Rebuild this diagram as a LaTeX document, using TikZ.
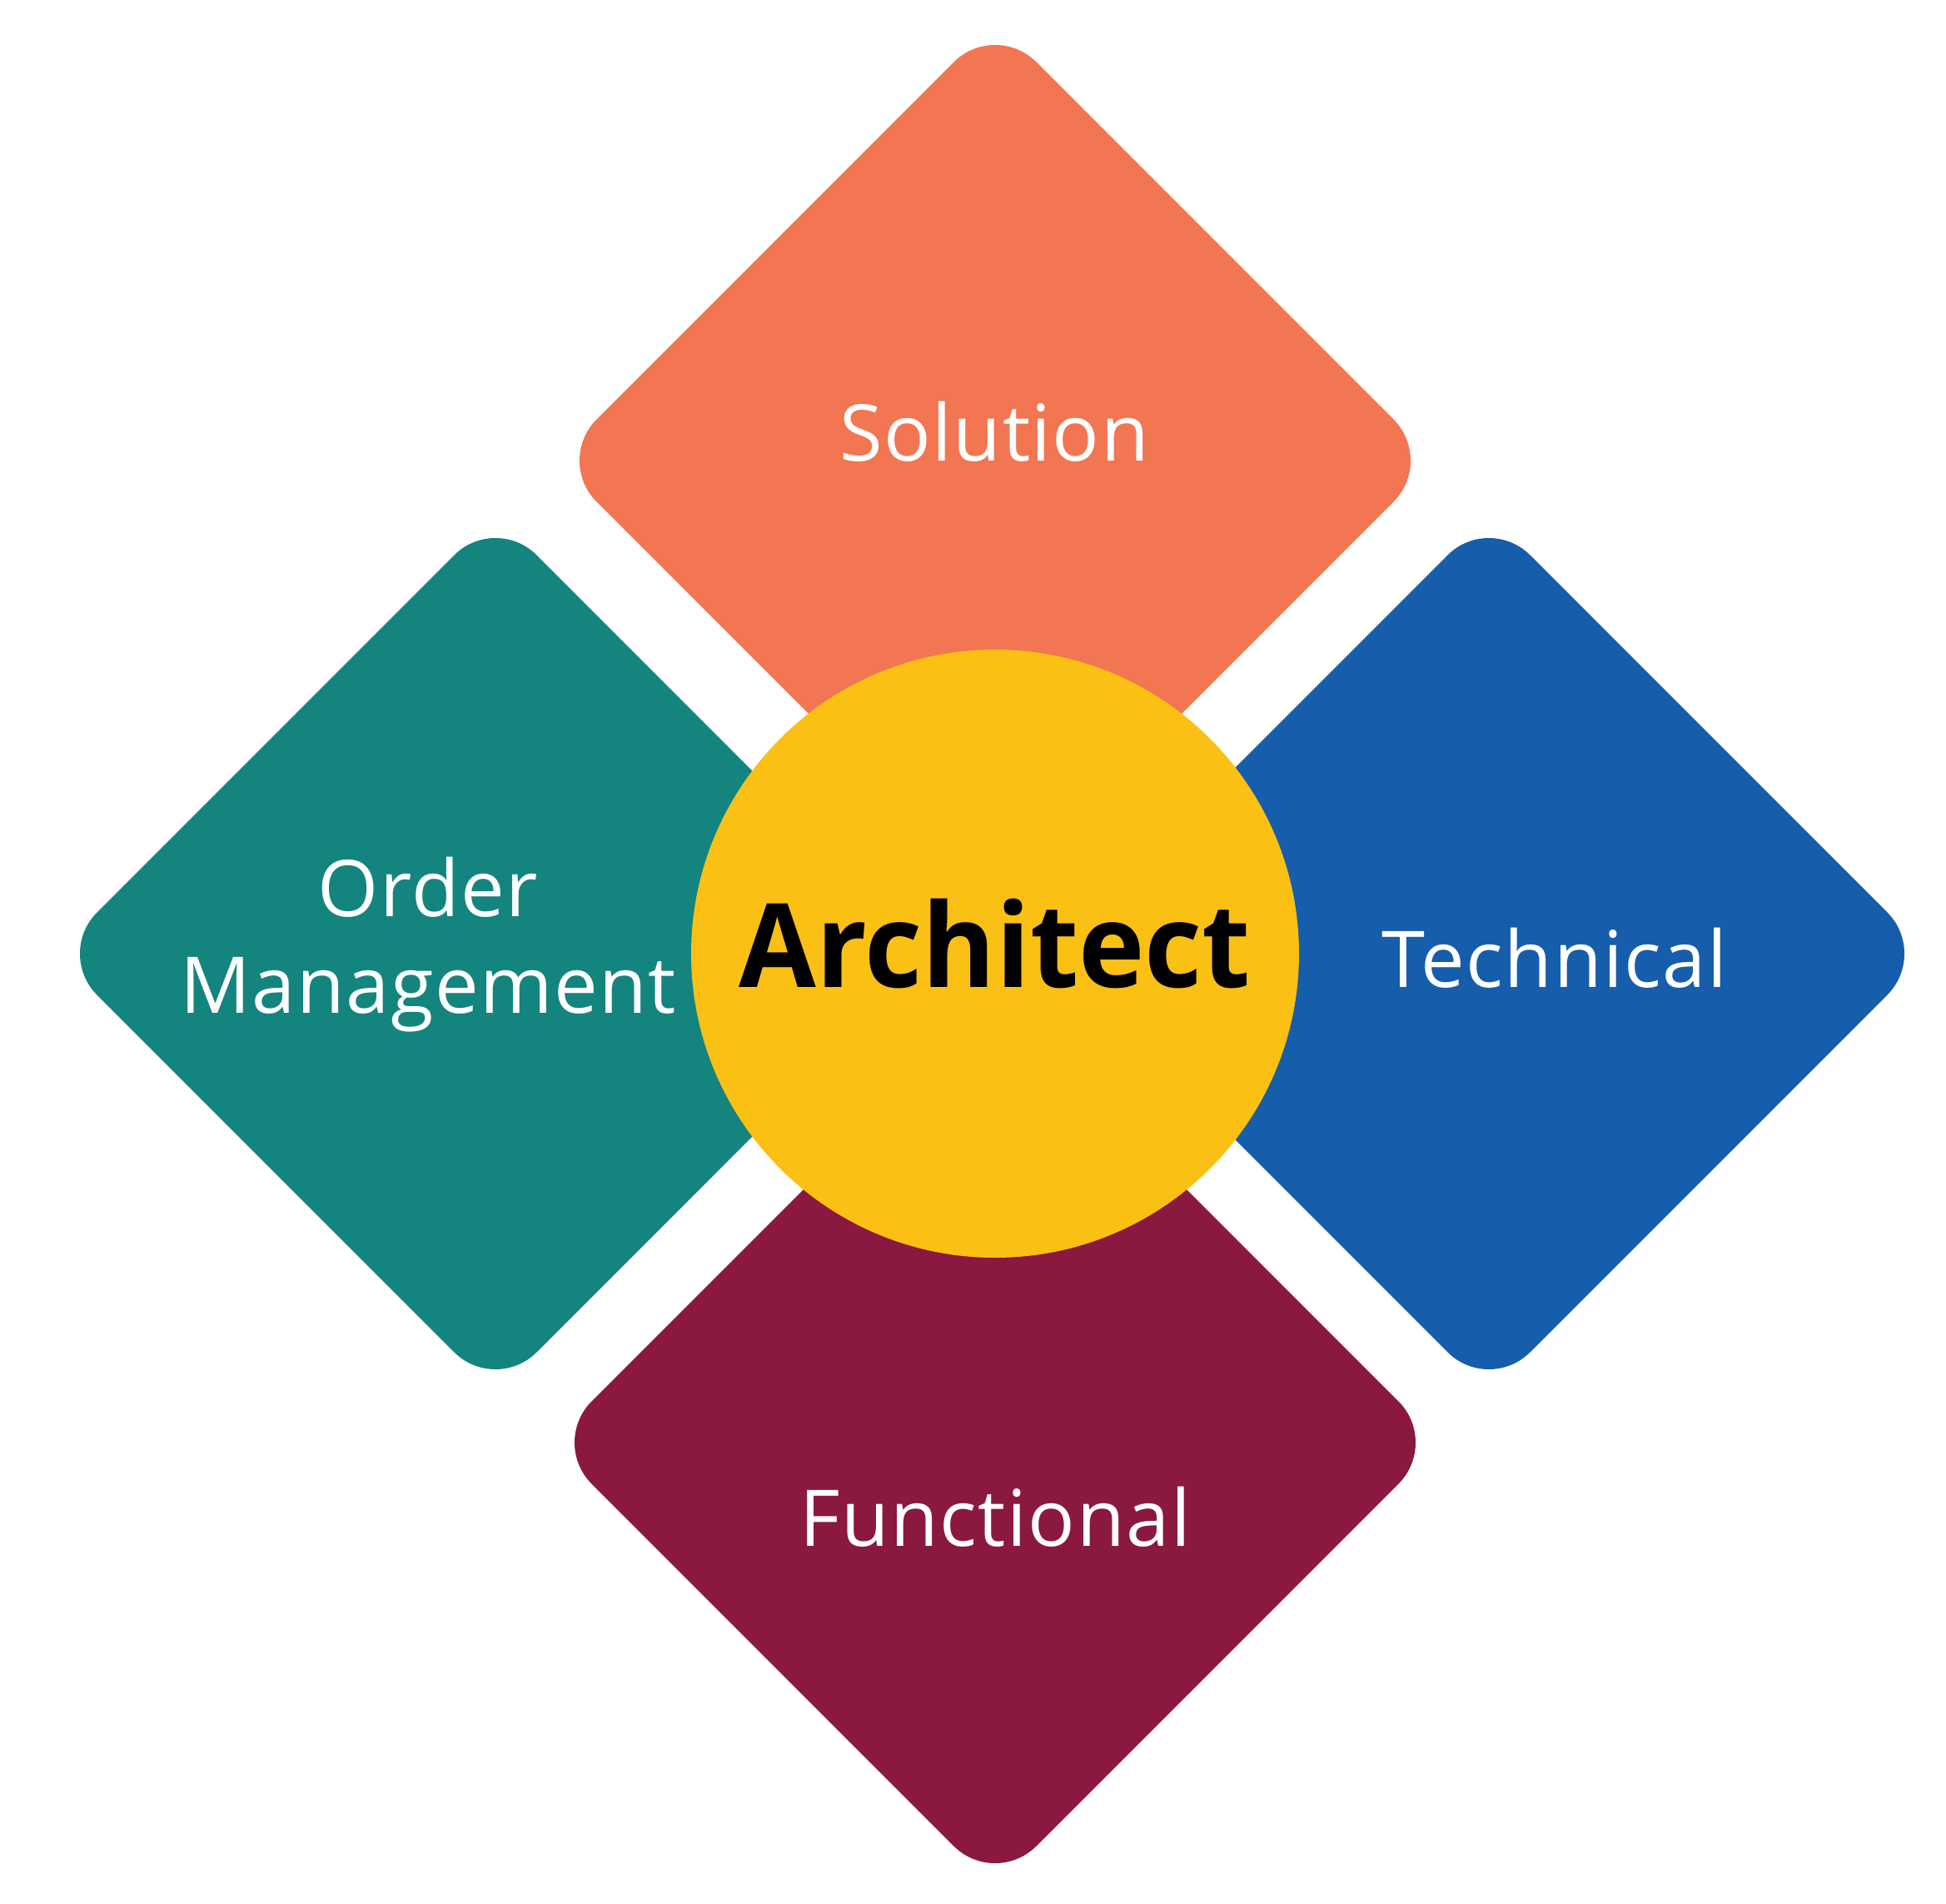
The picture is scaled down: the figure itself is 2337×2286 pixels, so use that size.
\documentclass[tikz,border=0pt]{standalone}
\usepackage{fontspec}
\setmainfont{Open Sans}[LetterSpace=1.6]
\newfontfamily\archfont{Open Sans}[FakeStretch=0.96]
\definecolor{cOrange}{HTML}{F27651}
\definecolor{cTeal}{HTML}{14847E}
\definecolor{cBlue}{HTML}{165DAB}
\definecolor{cMaroon}{HTML}{8B1840}
\definecolor{cYellow}{HTML}{FBC014}
\begin{document}
\begin{tikzpicture}[x=1pt,y=-1pt,
  petal/.style={rounded corners=70pt},
  lbl/.style={text=white,font=\fontsize{94}{116}\selectfont,align=center,anchor=base,inner sep=0pt},
  hub/.style={fill=cYellow,circle,minimum size=730pt,inner sep=0pt}]
\useasboundingbox (0,0) rectangle (2337,2286);
% petals
\fill[cOrange,petal] (1195,25) -- (1723,553) -- (1195,1081) -- (667,553) -- cycle;
\fill[cTeal,petal] (595,617) -- (1123,1145) -- (595,1673) -- (67,1145) -- cycle;
\fill[cBlue,petal] (1788,617) -- (2316,1145) -- (1788,1673) -- (1260,1145) -- cycle;
\fill[cMaroon,petal] (1195,1198) -- (1729,1732) -- (1195,2266) -- (661,1732) -- cycle;
% hub
\node[hub] (hub) at (1195,1145) {};
\node[anchor=base,inner sep=0pt,font=\archfont\fontsize{140}{160}\selectfont\bfseries] (arch) at (1195,1185) {Architect};
% labels
\node[lbl] (sol) at (1194,553) {Solution};
\node[lbl] (om) at (514,1216) {Order\\Management};
\node[lbl] (tech) at (1867,1185) {Technical};
\node[lbl] (func) at (1195,1856) {Functional};
\end{tikzpicture}
\end{document}
